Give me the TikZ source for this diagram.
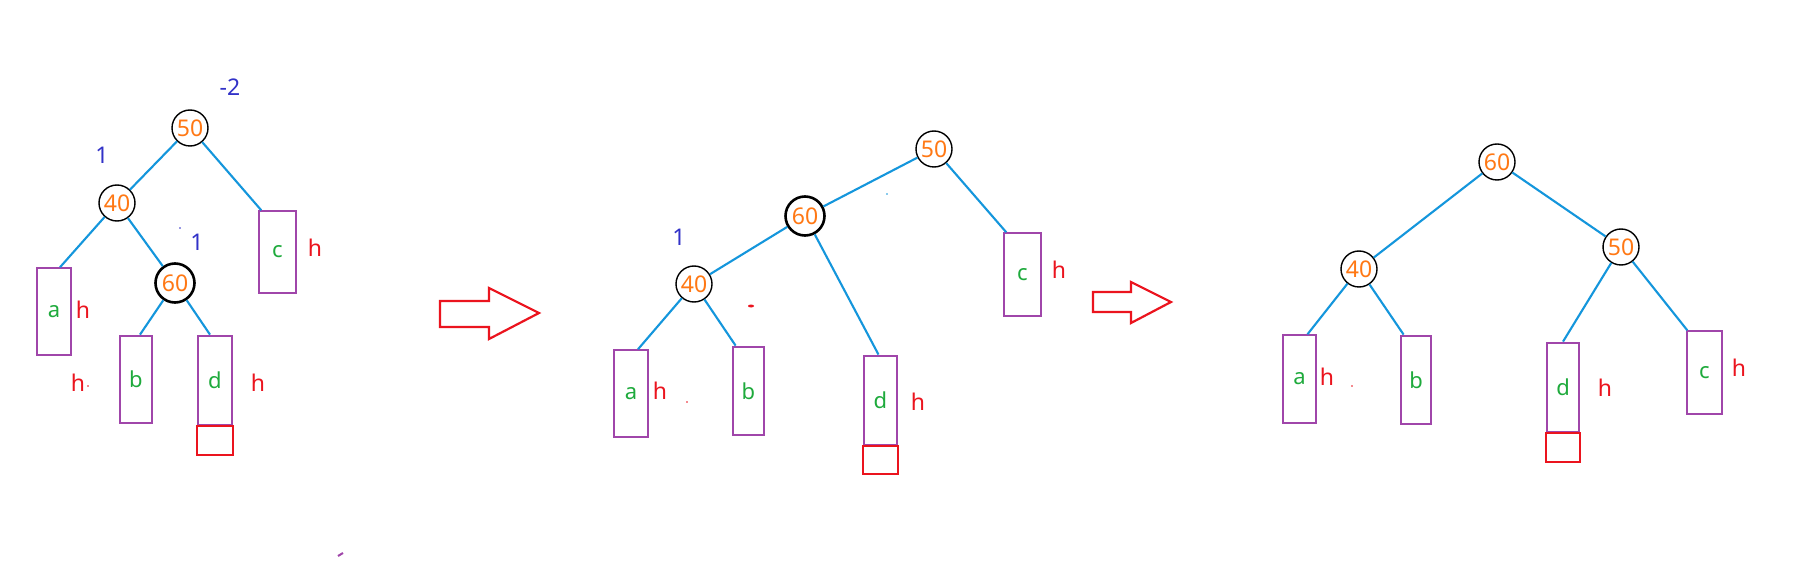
\documentclass[tikz,border=0pt]{standalone}
\usepackage{fontspec}
\setmainfont{Noto Sans}
\definecolor{edgeblue}{RGB}{20,150,220}
\definecolor{boxpurple}{RGB}{160,70,170}
\definecolor{numorange}{RGB}{255,120,20}
\definecolor{lettergreen}{RGB}{30,170,60}
\definecolor{hred}{RGB}{235,20,30}
\definecolor{balblue}{RGB}{50,50,200}
\tikzset{
 keynode/.style={circle,draw=black,line width=1.4pt,minimum size=36pt,inner sep=0pt,text=numorange,font=\fontsize{23}{26}\selectfont},
 keythick/.style={keynode,line width=2.6pt,minimum size=39pt},
 subtree/.style={rectangle,draw=boxpurple,line width=1.5pt,inner sep=0pt,text=lettergreen,font=\fontsize{22}{26}\selectfont},
 subthick/.style={subtree,line width=2.8pt},
 extrabox/.style={rectangle,draw=hred,line width=2.2pt,inner sep=0pt},
 hlabel/.style={text=hred,font=\fontsize{23}{26}\selectfont,inner sep=0pt},
 ballabel/.style={text=balblue,font=\fontsize{23}{26}\selectfont,inner sep=0pt},
 link/.style={draw=edgeblue,line width=2.1pt},
 bigarrow/.style={draw=hred,line width=2.2pt,line join=miter},
}
\begin{document}
\begin{tikzpicture}[x=1pt,y=-1pt]
\useasboundingbox[fill=white] (0,0) rectangle (1801,569);

% ---------- panel 1 ----------
\node[keynode]  (p1n50) at (190,128) {50};
\node[keynode]  (p1n40) at (117,203) {40};
\node[keythick] (p1n60) at (175,283) {60};
\node[subtree,minimum width=37pt,minimum height=82pt] (p1c) at (277.5,252) {c};
\node[subtree,minimum width=34pt,minimum height=87pt] (p1a) at (54,311.5) {a};
\node[subthick,minimum width=32pt,minimum height=87pt] (p1b) at (136,379.5) {b};
\node[subthick,minimum width=34pt,minimum height=89pt] (p1d) at (215,380.5) {d};
\node[extrabox,minimum width=36pt,minimum height=29pt] (p1r) at (215,440.5) {};
\node[ballabel] (p1bal50) at (230,87) {-2};
\node[ballabel] (p1bal40) at (102,155) {1};
\node[ballabel] (p1bal60) at (197,242) {1};
\node[hlabel] (p1hc) at (315,248) {h};
\node[hlabel] (p1ha) at (83,310) {h};
\node[hlabel] (p1hb) at (78,383) {h};
\node[hlabel] (p1hd) at (258,383) {h};
\draw[link] (p1n50) -- (p1n40);
\draw[link] (p1n50) -- ([xshift=3pt]p1c.north west);
\draw[link] (p1n40) -- ([xshift=6pt]p1a.north);
\draw[link] (p1n40) -- (p1n60);
\draw[link] (p1n60) -- ([xshift=4pt]p1b.north);
\draw[link] (p1n60) -- ([xshift=-5pt]p1d.north);
\fill[balblue] (180,228) circle (0.8);
\fill[hred] (88,386) circle (0.8);

% ---------- arrow 1 ----------
\draw[bigarrow] (440,301) -- (489,301) -- (489,288) -- (539,313) -- (489,339) -- (489,327) -- (440,327) -- cycle;

% ---------- panel 2 ----------
\node[keynode]  (p2n50) at (934,149) {50};
\node[keythick] (p2n60) at (805,216) {60};
\node[keynode]  (p2n40) at (694,284) {40};
\node[subtree,minimum width=37pt,minimum height=83pt] (p2c) at (1022.5,274.5) {c};
\node[subtree,minimum width=34pt,minimum height=87pt] (p2a) at (631,393.5) {a};
\node[subthick,minimum width=31pt,minimum height=88pt] (p2b) at (748.5,391) {b};
\node[subthick,minimum width=33pt,minimum height=89pt] (p2d) at (880.5,400.5) {d};
\node[extrabox,minimum width=35pt,minimum height=28pt] (p2r) at (880.5,460) {};
\node[ballabel] (p2bal40) at (679,237) {1};
\node[hlabel] (p2hc) at (1059,270) {h};
\node[hlabel] (p2ha) at (660,391) {h};
\node[hlabel] (p2hd) at (918,402) {h};
\draw[link] (p2n60) -- (p2n50);
\draw[link] (p2n60) -- (p2n40);
\draw[link] (p2n60) -- ([xshift=-2pt]p2d.north);
\draw[link] (p2n50) -- ([xshift=3pt]p2c.north west);
\draw[link] (p2n40) -- ([xshift=7pt]p2a.north);
\draw[link] (p2n40) -- ([xshift=4pt]p2b.north west);
\fill[hred] (751,306) ellipse (3 and 1.5);
\fill[hred] (687,402) circle (0.8);
\fill[edgeblue] (887,194) circle (0.8);

% ---------- arrow 2 ----------
\draw[bigarrow] (1093,292) -- (1131,292) -- (1131,282) -- (1171,302) -- (1131,323) -- (1131,312) -- (1093,312) -- cycle;

% ---------- panel 3 ----------
\node[keynode] (p3n60) at (1497,162) {60};
\node[keynode] (p3n40) at (1359,269) {40};
\node[keynode] (p3n50) at (1621,247) {50};
\node[subtree,minimum width=33pt,minimum height=88pt] (p3a) at (1299.5,379) {a};
\node[subthick,minimum width=30pt,minimum height=88pt] (p3b) at (1416,380) {b};
\node[subthick,minimum width=32pt,minimum height=89pt] (p3d) at (1563,387.5) {d};
\node[extrabox,minimum width=34pt,minimum height=29pt] (p3r) at (1563,447.5) {};
\node[subtree,minimum width=35pt,minimum height=83pt] (p3c) at (1704.5,372.5) {c};
\node[hlabel] (p3ha) at (1327,377) {h};
\node[hlabel] (p3hd) at (1605,388) {h};
\node[hlabel] (p3hc) at (1739,368) {h};
\draw[link] (p3n60) -- (p3n40);
\draw[link] (p3n60) -- (p3n50);
\draw[link] (p3n40) -- ([xshift=8pt]p3a.north);
\draw[link] (p3n40) -- ([xshift=4pt]p3b.north west);
\draw[link] (p3n50) -- (p3d.north);
\draw[link] (p3n50) -- ([xshift=1pt]p3c.north west);
\fill[hred] (1352,386) circle (0.8);

% stray mark
\draw[boxpurple,line width=2pt] (338,556) -- (343,553);
\end{tikzpicture}
\end{document}
